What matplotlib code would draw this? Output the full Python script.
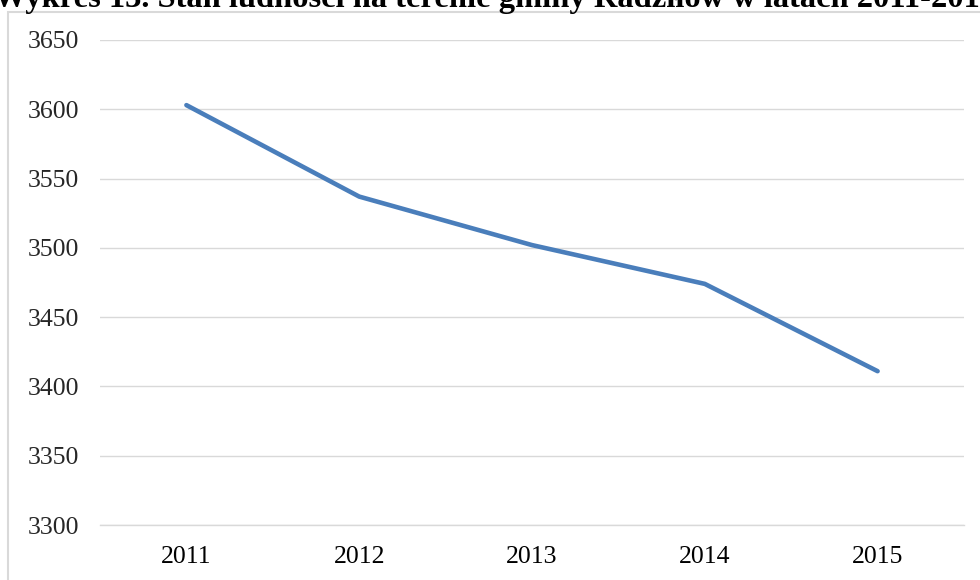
import matplotlib
matplotlib.use("Agg")
import matplotlib.pyplot as plt
from matplotlib.patches import Rectangle

# dane
lata = ['2011', '2012', '2013', '2014', '2015']
ludnosc = [3603, 3537, 3502, 3474, 3411]
os_y = [3300, 3350, 3400, 3450, 3500, 3550, 3600, 3650]

tytul = 'Wykres 13. Stan ludności na terenie gminy Radziłów w latach 2011-2015'

plt.rcParams['font.family'] = ['Liberation Serif', 'DejaVu Serif']

W, H = 980, 580
fig = plt.figure(figsize=(W / 100, H / 100), dpi=100)

#-------------------------------------------------------------------------------
# ramka wykresu (przycieta jak na zrzucie)
fig.patches.append(Rectangle((8 / W, -0.05), 1.1, 1 - 12 / H + 0.05,
                             transform=fig.transFigure, fill=False,
                             edgecolor='#d9d9d9', linewidth=1.5))

fig.text(-6 / W, 1 - 7 / H, tytul, fontsize=23.4, fontweight='bold',
         ha='left', va='baseline', color='black')

#-------------------------------------------------------------------------------
ax = fig.add_axes([100 / W, 1 - 525 / H, 864 / W, 485 / H])

x = list(range(len(lata)))
ax.plot(x, ludnosc, color='#4a7ebb', linewidth=3.3, solid_capstyle='round',
        solid_joinstyle='round', zorder=3)

ax.set_xlim(-0.5, len(lata) - 0.5)
ax.set_ylim(os_y[0], os_y[-1])
ax.set_xticks(x)
ax.set_xticklabels(lata)
ax.set_yticks(os_y)
ax.set_yticklabels([str(v) for v in os_y])

ax.grid(axis='y', color='#d9d9d9', linewidth=1.0)
ax.set_axisbelow(True)
for s in ax.spines.values():
    s.set_visible(False)
ax.spines['bottom'].set_visible(True)
ax.spines['bottom'].set_color('#d9d9d9')
ax.spines['bottom'].set_linewidth(1.0)

ax.tick_params(axis='y', length=0, pad=15, labelsize=18.5, labelcolor='#262626')
ax.tick_params(axis='x', length=0, pad=15, labelsize=18.5, labelcolor='black')

fig.savefig('out.png', dpi=100)
